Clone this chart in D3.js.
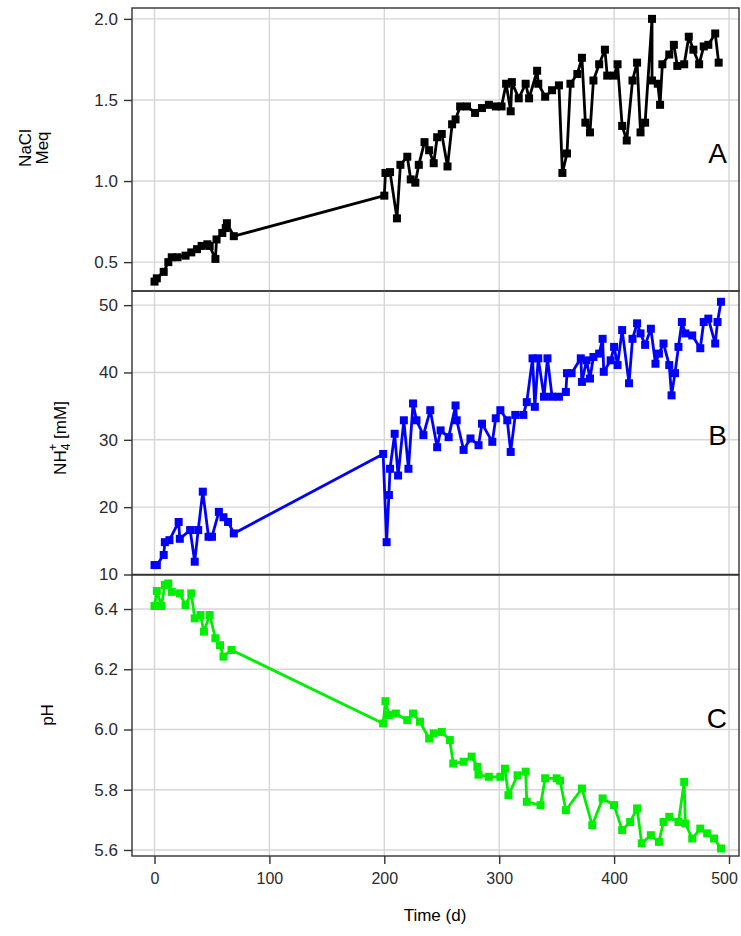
<!DOCTYPE html>
<html>
<head>
<meta charset="utf-8">
<script src="https://cdn.jsdelivr.net/npm/d3@7"></script>
<style>
  body { margin: 0; background: #fff; }
  text { font-family: "Liberation Sans", Arial, sans-serif; }
</style>
</head>
<body>
<div id="chart"></div>
<script>
// panel A: NaCl Meq
var timeA = [0,2,8,12,15,20,27,32,37,41,46,48,53,54,59,62,63,69,
  200,201,205,211,214,220,223,227,230,235,239,243,246,250,255,259,262,266,272,279,285,291,297,302,
  306,310,311,317,323,326,333,334,340,346,352,355,359,362,368,372,375,379,382,387,392,394,400,403,
  407,411,416,420,423,427,433,433,438,440,442,448,452,455,461,465,469,474,478,482,488,491]
var naclA = [0.38,0.40,0.44,0.50,0.53,0.53,0.54,0.56,0.58,0.60,0.61,0.60,0.52,0.64,0.68,0.71,0.74,0.66,
  0.91,1.05,1.055,0.77,1.10,1.15,1.01,0.99,1.10,1.24,1.19,1.11,1.27,1.29,1.09,1.35,1.38,1.46,1.46,1.42,1.45,1.47,1.46,1.46,
  1.60,1.43,1.61,1.51,1.60,1.51,1.68,1.60,1.52,1.56,1.59,1.05,1.17,1.60,1.66,1.76,1.36,1.30,1.62,1.72,1.81,1.65,1.65,1.72,
  1.34,1.25,1.62,1.73,1.30,1.36,2.00,1.62,1.60,1.47,1.72,1.78,1.84,1.71,1.72,1.89,1.81,1.72,1.83,1.84,1.91,1.73]

// panel B: NH4+ mM
var timeB = [0,2,8,9,13,21,22,31,35,38,42,47,50,56,60,64,69,
  199,202,204,205,209,212,217,221,225,228,234,240,246,249,256,262,263,269,275,282,285,294,297,301,307,310,
  314,321,324,329,331,334,339,342,346,352,358,359,363,371,372,376,379,382,387,390,391,397,400,403,
  407,413,416,420,423,427,432,436,439,443,448,450,453,456,459,462,468,475,478,482,488,490,493]
var nh4B = [11.4,11.4,12.9,14.8,15.1,17.8,15.3,16.6,11.9,16.6,22.3,15.6,15.6,19.3,18.5,17.8,16.1,
  27.9,14.8,21.8,25.7,30.9,24.7,32.9,25.7,35.4,32.9,30.7,34.4,28.9,31.4,30.4,35.1,32.9,28.5,30.2,29.2,32.4,29.7,33.2,34.4,32.9,28.2,
  33.7,33.7,35.6,42.1,34.9,42.1,36.4,42.1,36.4,36.4,37.1,39.9,39.9,42.1,38.6,41.8,39.1,42.3,42.8,45.0,40.1,41.8,43.8,41.1,
  46.3,38.4,45.0,47.3,45.8,44.1,46.5,41.3,42.8,44.3,41.1,36.6,39.9,43.8,47.5,45.8,45.5,43.6,47.5,48.0,44.3,47.5,50.5]

// panel C: pH
var timeC = [0,2,6,9,12,15,22,27,32,35,40,43,48,53,57,60,67,
  199,201,204,210,220,225,231,239,243,250,257,260,269,276,281,282,291,301,305,308,316,323,324,336,340,350,353,358,
  372,381,390,400,407,414,420,424,432,439,443,448,456,461,462,468,475,481,487,493]
var phC = [6.41,6.46,6.41,6.48,6.485,6.457,6.452,6.413,6.452,6.369,6.38,6.325,6.38,6.303,6.28,6.242,6.264,
  6.02,6.094,6.048,6.053,6.031,6.053,6.026,5.97,5.987,5.992,5.965,5.887,5.893,5.91,5.876,5.85,5.843,5.843,5.87,5.782,5.848,5.86,5.76,5.749,5.838,5.838,5.83,5.732,
  5.804,5.682,5.771,5.749,5.666,5.693,5.738,5.622,5.649,5.627,5.693,5.71,5.693,5.826,5.688,5.638,5.671,5.655,5.638,5.605]

var xTicks = [0,100,200,300,400,500]

var W = 741, H = 936
var left = 132, right = 739

var svg = d3.select("#chart").append("svg")
  .attr("width", W).attr("height", H)

var x = d3.scaleLinear().domain([-19.6, 508.7]).range([left, right])

var panels = [
  {t: timeA, v: naclA, color: "black", top: 8, bottom: 291, dom: [0.322, 2.067],
   ticks: [0.5,1.0,1.5,2.0], fmt: d3.format(".1f"), letter: "A", base: 163},
  {t: timeB, v: nh4B, color: "#0000ff", top: 291, bottom: 574.5, dom: [10, 52.1],
   ticks: [10,20,30,40,50], fmt: d3.format("d"), letter: "B", base: 445},
  {t: timeC, v: phC, color: "#00ee00", top: 575, bottom: 856, dom: [5.58, 6.513],
   ticks: [5.6,5.8,6.0,6.2,6.4], fmt: d3.format(".1f"), letter: "C", base: 728}
]

panels.forEach(function(p, i){
  var y = d3.scaleLinear().domain(p.dom).range([p.bottom, p.top])
  var g = svg.append("g")

  // grid
  g.selectAll(".gx").data(xTicks).enter().append("line")
    .attr("x1", function(d){ return x(d) }).attr("x2", function(d){ return x(d) })
    .attr("y1", p.top).attr("y2", p.bottom)
    .attr("stroke", "#d6d6d6").attr("stroke-width", 1.4)
  g.selectAll(".gy").data(p.ticks).enter().append("line")
    .attr("x1", left).attr("x2", right)
    .attr("y1", function(d){ return y(d) }).attr("y2", function(d){ return y(d) })
    .attr("stroke", "#d6d6d6").attr("stroke-width", 1.4)

  // left axis
  var ax = g.append("g")
    .attr("transform", "translate(" + left + ",0)")
    .call(d3.axisLeft(y).tickValues(p.ticks).tickFormat(p.fmt).tickSize(8).tickPadding(6))
  ax.select(".domain").remove()
  ax.selectAll("line").attr("stroke", "#333").attr("stroke-width", 1.4)
  ax.selectAll("text").attr("fill", "#2b2b2b").style("font-size", "17px")

  var data = p.t.map(function(d, j){ return {t: d, v: p.v[j]} })

  g.append("path")
    .datum(data)
    .attr("fill", "none")
    .attr("stroke", p.color)
    .attr("stroke-width", 2.8)
    .attr("stroke-linejoin", "round")
    .attr("d", d3.line()
      .x(function(d){ return x(d.t) })
      .y(function(d){ return y(d.v) }))

  g.selectAll(".pt").data(data).enter().append("rect")
    .attr("x", function(d){ return x(d.t) - 4 })
    .attr("y", function(d){ return y(d.v) - 4 })
    .attr("width", 8).attr("height", 8)
    .attr("fill", p.color)

  // border
  g.append("rect")
    .attr("x", left).attr("y", p.top)
    .attr("width", right - left).attr("height", p.bottom - p.top)
    .attr("fill", "none").attr("stroke", "#333").attr("stroke-width", 1.4)

  g.append("text")
    .attr("x", 727).attr("y", p.base)
    .attr("text-anchor", "end")
    .style("font-size", "28px")
    .text(p.letter)

  if (i == 2) {
    var bx = g.append("g")
      .attr("transform", "translate(0," + p.bottom + ")")
      .call(d3.axisBottom(x).tickValues(xTicks).tickSize(8).tickPadding(9))
    bx.select(".domain").remove()
    bx.selectAll("line").attr("stroke", "#333").attr("stroke-width", 1.4)
    bx.selectAll("text").attr("fill", "#2b2b2b").style("font-size", "16px")
      .attr("dx", function(d){ return d == 500 ? -5 : 0 })
  }
})

// axis titles
svg.append("text")
  .attr("transform", "translate(31,148) rotate(-90)")
  .attr("text-anchor", "middle")
  .style("font-size", "17px")
  .text("NaCl")
svg.append("text")
  .attr("transform", "translate(48,148) rotate(-90)")
  .attr("text-anchor", "middle")
  .style("font-size", "17px")
  .text("Meq")

var nh = svg.append("text")
  .attr("transform", "translate(66,438) rotate(-90)")
  .attr("text-anchor", "middle")
  .style("font-size", "17px")
nh.append("tspan").text("NH")
nh.append("tspan").attr("dy", 4).style("font-size", "12px").text("4")
nh.append("tspan").attr("dx", -7).attr("dy", -13).style("font-size", "12px").text("+")
nh.append("tspan").attr("dy", 9).text(" [mM]")

svg.append("text")
  .attr("transform", "translate(53,715) rotate(-90)")
  .attr("text-anchor", "middle")
  .style("font-size", "17px")
  .text("pH")

svg.append("text")
  .attr("x", 435).attr("y", 921)
  .attr("text-anchor", "middle")
  .style("font-size", "17px")
  .text("Time (d)")
</script>
</body>
</html>
